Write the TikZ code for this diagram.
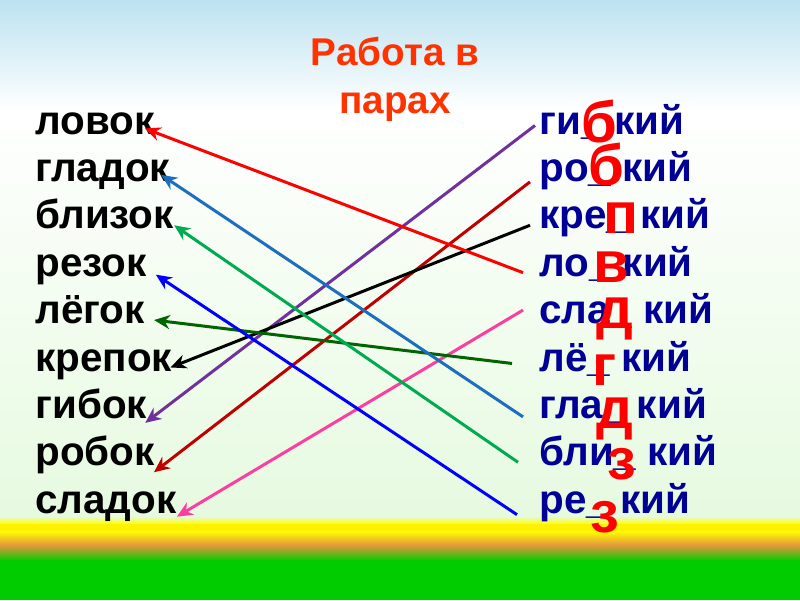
\documentclass[tikz,border=0pt]{standalone}
\usepackage{fontspec}
\setmainfont{Liberation Sans}
\usetikzlibrary{arrows.meta,positioning,calc}
\definecolor{skyblue}{RGB}{188,226,240}\definecolor{palegrn}{RGB}{230,250,224}
\definecolor{bandorange}{RGB}{230,150,60}\definecolor{grassgreen}{RGB}{0,204,0}
\definecolor{titlered}{RGB}{255,51,0}\definecolor{wordblue}{RGB}{0,0,150}
\definecolor{arrsteel}{RGB}{30,110,190}\definecolor{arrgreen}{RGB}{0,170,80}
\definecolor{arrdkgreen}{RGB}{0,100,0}\definecolor{arrpurple}{RGB}{112,48,160}
\definecolor{arrdkred}{RGB}{192,0,0}\definecolor{arrpink}{RGB}{255,60,160}

\begin{document}
\begin{tikzpicture}[x=0.02cm,y=-0.02cm,
  lword/.style={anchor=base west,inner sep=0pt,text height=17pt,text depth=5pt,font=\bfseries\fontsize{23}{27}\selectfont},
  rword/.style={lword,text=wordblue},
  miss/.style={anchor=base,inner sep=0pt,text=red,font=\bfseries\fontsize{33}{38}\selectfont},
  pair/.style={line width=1.7pt,-{Stealth[length=9pt,width=8pt]}}]
\useasboundingbox (0,0) rectangle (800,600);
% background
\shade[top color=skyblue,bottom color=white] (0,0) rectangle (800,110);\shade[top color=white,bottom color=palegrn] (0,110) rectangle (800,517);
\shade[top color=palegrn,bottom color=yellow] (0,516) rectangle (800,524);\fill[yellow] (0,524) rectangle (800,531);
\shade[top color=yellow,bottom color=bandorange] (0,531) rectangle (800,545);\shade[top color=bandorange,bottom color=grassgreen] (0,545) rectangle (800,561);
\fill[grassgreen] (0,560) rectangle (800,600);
\node[anchor=north,inner sep=0pt,align=center,text=titlered,font=\bfseries\fontsize{22}{27}\selectfont] (title) at (395,37) {Работа в\\парах};
% left column
\node[lword] (lovok) at (35,134) {ловок};\node[lword] (gladok) at (35,181.4) {гладок};\node[lword] (blizok) at (35,228.8) {близок};
\node[lword] (rezok) at (35,276.2) {резок};\node[lword] (legok) at (35,323.6) {лёгок};\node[lword] (krepok) at (35,371) {крепок};
\node[lword] (gibok) at (35,418.4) {гибок};\node[lword] (robok) at (35,465.8) {робок};\node[lword] (sladok) at (35,513.2) {сладок};
% right column
\node[rword] (gibkij) at (539,134) {ги\_ кий};\node[rword] (robkij) at (539,181.4) {ро\_ кий};\node[rword] (krepkij) at (539,228.8) {кре\_ кий};
\node[rword] (lovkij) at (539,276.2) {ло\_ кий};\node[rword] (sladkij) at (539,323.6) {сла\_ кий};\node[rword] (legkij) at (539,371) {лё\_ кий};
\node[rword] (gladkij) at (539,418.4) {гла\_ кий};\node[rword] (blizkij) at (539,465.8) {бли\_ кий};\node[rword] (rezkij) at (539,513.2) {ре\_ кий};
% letters
\node[miss] (m1) at (599,142) {б};\node[miss] (m2) at (606,185) {б};\node[miss] (m3) at (621,233) {п};
\node[miss] (m4) at (611,282) {в};\node[miss] (m5) at (615,328) {д};\node[miss] (m6) at (605,385) {г};
\node[miss] (m7) at (615,428) {д};\node[miss] (m8) at (622,479) {з};\node[miss] (m9) at (605,532) {з};
% pairs
\draw[pair,arrpurple] ([shift={(-4,2)}]gibkij.west) -- ([shift={(-2,15)}]gibok.east);
\draw[pair,arrdkred] ([shift={(-9,11)}]robkij.west) -- ([shift={(-1,17)}]robok.east);
\draw[pair,black] ([shift={(-9,7)}]krepkij.west) -- ([shift={(-2,7)}]krepok.east);
\draw[pair,red] ([shift={(-16,7)}]lovkij.west) -- ([shift={(-10,5)}]lovok.east);
\draw[pair,arrpink] ([shift={(-16,-3)}]sladkij.west) -- ([shift={(0,14)}]sladok.east);
\draw[pair,arrdkgreen] ([shift={(-27,3)}]legkij.west) -- ([shift={(9,7)}]legok.east);
\draw[pair,arrsteel] ([shift={(-16,9)}]gladkij.west) -- ([shift={(-9,4)}]gladok.east);
\draw[pair,arrgreen] ([shift={(-21,7)}]blizkij.west) -- ([shift={(0,7)}]blizok.east);
\draw[pair,blue] ([shift={(-22,12)}]rezkij.west) -- ([shift={(9,9)}]rezok.east);
\end{tikzpicture}
\end{document}
